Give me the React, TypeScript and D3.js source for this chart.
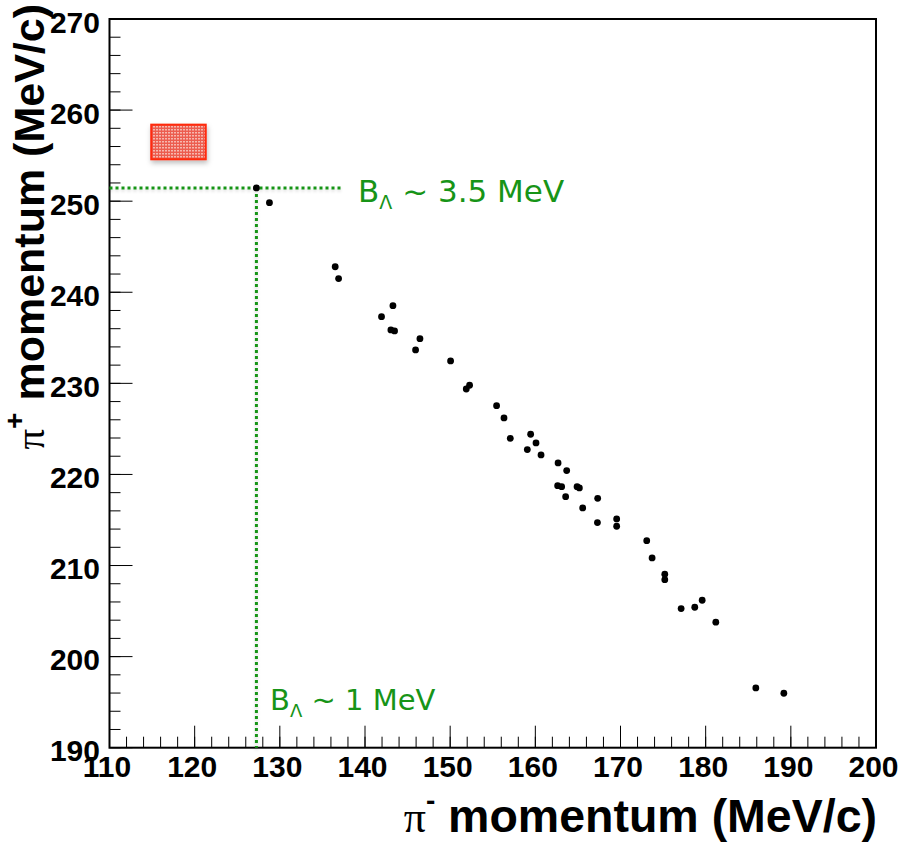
import React from "react";
import * as d3 from "d3";

const piMinus = [127.25, 128.78, 136.5, 136.9, 143.28, 141.94, 143.04, 143.47, 146.45, 145.94, 150.05, 152.28, 151.89, 155.45, 156.32, 157.06, 159.45, 160.08, 159.06, 160.67, 162.67, 163.68, 162.62, 163.09, 164.9, 165.17, 163.56, 167.32, 165.56, 167.29, 169.55, 169.55, 173.08, 173.71, 175.2, 175.2, 177.12, 178.72, 179.59, 181.19, 185.89, 189.18];
const piPlus = [251.45, 249.84, 242.8, 241.5, 238.53, 237.32, 235.86, 235.75, 234.9, 233.67, 232.46, 229.79, 229.38, 227.55, 226.2, 223.97, 224.41, 223.46, 222.73, 222.14, 221.26, 220.42, 218.77, 218.66, 218.66, 218.52, 217.56, 217.38, 216.32, 214.71, 215.12, 214.31, 212.73, 210.83, 209.04, 208.45, 205.27, 205.42, 206.19, 203.78, 196.56, 195.98];

const xTicks = [110, 120, 130, 140, 150, 160, 170, 180, 190, 200];
const yTicks = [190, 200, 210, 220, 230, 240, 250, 260, 270];
const xMinor = d3.range(110, 200.01, 2);
const yMinor = d3.range(190, 270.01, 2);

const markerX = 127.25;
const markerY = 251.45;
const hLineEnd = 137.4;
const boxX = [114.9, 121.3];
const boxY = [254.6, 258.4];

const labelHigh = "3.5 MeV";
const labelLow = "1 MeV";

export default function App() {
  const x = d3.scaleLinear().domain([110, 200]).range([109.5, 876]);
  const y = d3.scaleLinear().domain([190, 270]).range([747.7, 19]);
  const x0 = x(110), x1 = x(200), y0 = y(190), y1 = y(270);
  const green = "#179417";
  const tickFont = "'Liberation Sans', Arial, Helvetica, sans-serif";
  const labelFont = "'DejaVu Sans', 'Noto Sans', sans-serif";
  return (
    <svg width={908} height={842} style={{ position: "absolute", left: 0, top: 0, background: "#fff" }}>
      <defs>
        <pattern id="dots" width="3" height="3" patternUnits="userSpaceOnUse">
          <rect width="3" height="3" fill="#ec5d50" />
          <rect x="0" y="0" width="2" height="1.5" fill="#f6b7ae" />
        </pattern>
        <filter id="shadow" x="-20%" y="-20%" width="150%" height="160%">
          <feDropShadow dx="1" dy="3" stdDeviation="2.5" floodColor="#000" floodOpacity="0.25" />
        </filter>
        <filter id="lshadow" x="-5%" y="-50%" width="110%" height="200%">
          <feDropShadow dx="0" dy="2" stdDeviation="1.5" floodColor="#000" floodOpacity="0.15" />
        </filter>
      </defs>
      {/* minor ticks */}
      {xMinor.map((v) => (
        <line key={"xm" + v} x1={x(v)} x2={x(v)} y1={y0} y2={y0 - 11} stroke="#000" strokeWidth={1} />
      ))}
      {yMinor.map((v) => (
        <line key={"ym" + v} x1={x0} x2={x0 + 11} y1={y(v)} y2={y(v)} stroke="#000" strokeWidth={1} />
      ))}
      {xTicks.map((v) => (
        <line key={"xM" + v} x1={x(v)} x2={x(v)} y1={y0} y2={y0 - 22} stroke="#000" strokeWidth={1} />
      ))}
      {yTicks.map((v) => (
        <line key={"yM" + v} x1={x0} x2={x0 + 23} y1={y(v)} y2={y(v)} stroke="#000" strokeWidth={1} />
      ))}
      {/* frame */}
      <rect x={x0} y={y1} width={x1 - x0} height={y0 - y1} fill="none" stroke="#000" strokeWidth={2} />
      {/* tick labels */}
      {xTicks.map((v) => (
        <text key={"xl" + v} x={x(v) - 2.5} y={777} textAnchor="middle" fontFamily={tickFont} fontWeight="bold" fontSize={30}>
          {v}
        </text>
      ))}
      {yTicks.map((v) => (
        <text key={"yl" + v} x={100} y={y(v) + 13.5} textAnchor="end" fontFamily={tickFont} fontWeight="bold" fontSize={30}>
          {v}
        </text>
      ))}
      {/* axis titles */}
      <text x={877} y={832} textAnchor="end" fontFamily={tickFont} fontWeight="bold" fontSize={46.5}>
        <tspan fontFamily="'Liberation Serif', 'DejaVu Serif', serif" fontWeight="normal" fontSize={44}>π</tspan>
        <tspan fontSize={28} dy={-22}>-</tspan>
        <tspan dy={22}> momentum (MeV/c)</tspan>
      </text>
      <text transform={`translate(44,4) rotate(-90)`} x={0} y={0} textAnchor="end" fontFamily={tickFont} fontWeight="bold" fontSize={43}>
        <tspan fontFamily="'Liberation Serif', 'DejaVu Serif', serif" fontWeight="normal" fontSize={41}>π</tspan>
        <tspan fontSize={28} dy={-20}>+</tspan>
        <tspan dy={20}> momentum (MeV/c)</tspan>
      </text>
      {/* red box */}
      <rect x={x(boxX[0])} y={y(boxY[1])} width={x(boxX[1]) - x(boxX[0])} height={y(boxY[0]) - y(boxY[1])} fill="url(#dots)" stroke="#ff2a0a" strokeWidth={2} filter="url(#shadow)" />
      {/* green dotted lines */}
      <g filter="url(#lshadow)">
        <line x1={x0} x2={x(hLineEnd)} y1={y(markerY)} y2={y(markerY)} stroke={green} strokeWidth={3} strokeDasharray="3,3" />
        <line x1={x(markerX)} x2={x(markerX)} y1={y(markerY)} y2={y0} stroke={green} strokeWidth={3} strokeDasharray="3,3" />
      </g>
      {/* points */}
      {piMinus.map((v, i) => (
        <circle key={"p" + i} cx={x(v)} cy={y(piPlus[i])} r={3.4} fill="#000" />
      ))}
      {/* labels */}
      <text x={358} y={201.5} fontFamily={labelFont} fontSize={31} fill={green}>
        B<tspan fontSize={19} dy={7}>Λ</tspan>
        <tspan dy={-7}> ~ {labelHigh}</tspan>
      </text>
      <text x={270} y={710} fontFamily={labelFont} fontSize={29} fill={green}>
        B<tspan fontSize={18} dy={7}>Λ</tspan>
        <tspan dy={-7}> ~ {labelLow}</tspan>
      </text>
    </svg>
  );
}
